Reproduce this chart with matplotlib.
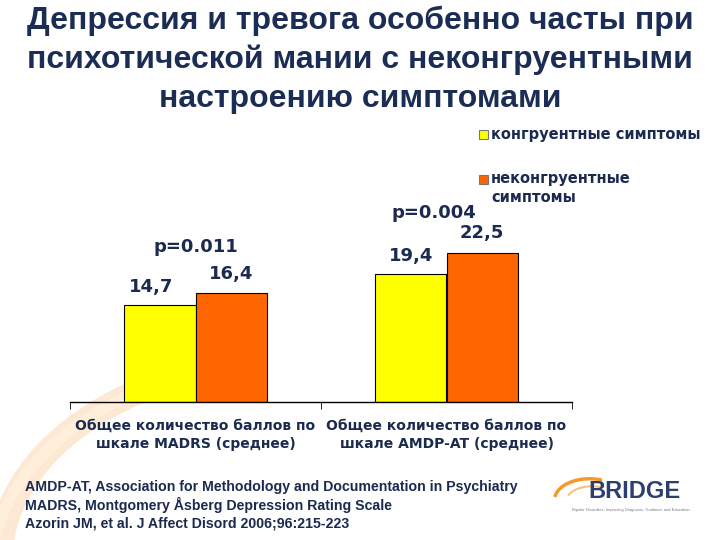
# -*- coding: utf-8 -*-
import numpy as np
import matplotlib
matplotlib.use('Agg')
import matplotlib.pyplot as plt
from matplotlib.patches import Rectangle, Arc

plt.rcParams['font.family'] = ['DejaVu Sans']
plt.rcParams['font.weight'] = 'bold'

# data
categories = ['Общее количество баллов по\nшкале MADRS (среднее)',
              'Общее количество баллов по\nшкале AMDP-AT (среднее)']
series_names = ['конгруентные симптомы', 'неконгруентные\nсимптомы']
congruent = [14.7, 19.4]
incongruent = [16.4, 22.5]
value_labels = [['14,7', '19,4'], ['16,4', '22,5']]
p_values = ['p=0.011', 'p=0.004']
p_heights = [22.0, 27.2]
title = ('Депрессия и тревога особенно часты при\n'
         'психотической мании с неконгруентными\n'
         'настроению симптомами')
footer = ['AMDP-AT, Association for Methodology and Documentation in Psychiatry',
          'MADRS, Montgomery Åsberg Depression Rating Scale',
          'Azorin JM, et al. J Affect Disord 2006;96:215-223']

navy = '#1b2a4e'
yellow = '#ffff00'
orange = '#ff6600'

fig = plt.figure(figsize=(7.2, 5.4), dpi=100)
fig.patch.set_facecolor('white')

# faint background swoosh
bg = fig.add_axes([0, 0, 1, 1], zorder=-5)
bg.set_xlim(0, 720)
bg.set_ylim(540, 0)
bg.axis('off')
bg.add_patch(Arc((300, 560), 600, 400, theta1=180, theta2=235, color='#fde3c8', lw=18, alpha=0.8))
bg.add_patch(Arc((300, 575), 620, 430, theta1=180, theta2=230, color='#fff0dc', lw=8, alpha=0.8))
bg.add_patch(Arc((600, 900), 1300, 860, theta1=100, theta2=160, color='#fef5e6', lw=10, alpha=0.8))

ax = fig.add_axes([70/720, (540-402)/540, 502/720, 270/540])
x = np.arange(len(categories))
w = 0.283
ax.bar(x - w/2, congruent, w, color=yellow, edgecolor='black', linewidth=0.8, label=series_names[0])
ax.bar(x + w/2, incongruent, w, color=orange, edgecolor='black', linewidth=0.8, label=series_names[1])

ax.set_xlim(-0.5, 1.5)
ax.set_ylim(0, 270/6.62)
for s in ['top', 'right', 'left']:
    ax.spines[s].set_visible(False)
ax.spines['bottom'].set_linewidth(1.0)
ax.patch.set_alpha(0)
ax.set_yticks([])
ax.set_xticks(x)
ax.set_xticklabels(categories, fontsize=10, color=navy, fontweight='bold', linespacing=1.35)
ax.tick_params(axis='x', which='major', length=0, pad=12)
ax.set_xticks([-0.5, 0.5, 1.5], minor=True)
ax.tick_params(axis='x', which='minor', length=5, direction='out')

# value labels
for i in range(len(categories)):
    ax.text(x[i] - w/2 - 0.035*(1 - i), congruent[i] + 2.7, value_labels[0][i], ha='center', va='center',
            fontsize=13, color=navy, fontweight='bold')
    ax.text(x[i] + w/2, incongruent[i] + 3.0, value_labels[1][i], ha='center', va='center',
            fontsize=13, color=navy, fontweight='bold')
    ax.text(x[i] - 0.05*i, p_heights[i], p_values[i], ha='center', va='bottom',
            fontsize=13, color=navy, fontweight='bold')

# legend
fig.add_artist(Rectangle((479/720, 1 - 139/540), 9/720, 9/540, facecolor=yellow,
                         edgecolor='#777777', lw=0.8, transform=fig.transFigure))
fig.text(491/720, 1 - 134/540, series_names[0], fontsize=10.5, color=navy,
         fontweight='bold', va='center', ha='left')
fig.add_artist(Rectangle((479/720, 1 - 184/540), 9/720, 9/540, facecolor=orange,
                         edgecolor='#777777', lw=0.8, transform=fig.transFigure))
leg2 = series_names[1].split('\n')
fig.text(491/720, 1 - 179/540, leg2[0], fontsize=10.5, color=navy,
         fontweight='bold', va='center', ha='left')
fig.text(491/720, 1 - 198/540, leg2[1], fontsize=10.5, color=navy,
         fontweight='bold', va='center', ha='left')

# title
for k, line in enumerate(title.split('\n')):
    fig.text(0.5, 1 - (21 + 39*k)/540, line, ha='center', va='center', fontsize=23,
             color='#1c2d55', fontweight='bold', family='Liberation Sans')

# footer
for k, line in enumerate(footer):
    fig.text(25/720, 1 - (487 + 18*k)/540, line, fontsize=10.2, color=navy,
             fontweight='bold', va='center', ha='left', family='Liberation Sans')

# logo
fig.text(634/720, 1 - 492/540, 'BRIDGE', fontsize=17, color='#2c3f6e', fontweight='bold',
         ha='center', va='center', family='Liberation Sans')
lg = fig.add_axes([552/720, 1 - 500/540, 50/720, 25/540])
lg.set_xlim(0, 1)
lg.set_ylim(0, 1)
lg.axis('off')
lg.add_patch(Arc((0.75, 0.0), 1.4, 1.7, theta1=40, theta2=170, color='#f39a2a', lw=2.5))
lg.add_patch(Arc((0.8, 0.0), 1.0, 1.1, theta1=40, theta2=160, color='#f7c27a', lw=1.5))
fig.text(631/720, 1 - 510/540, 'Bipolar Disorders: Improving Diagnosis, Guidance and Education',
         fontsize=3, color='#7a7a8a', ha='center', va='center', fontweight='normal',
         family='Liberation Sans')

fig.savefig('out.png', dpi=100)
